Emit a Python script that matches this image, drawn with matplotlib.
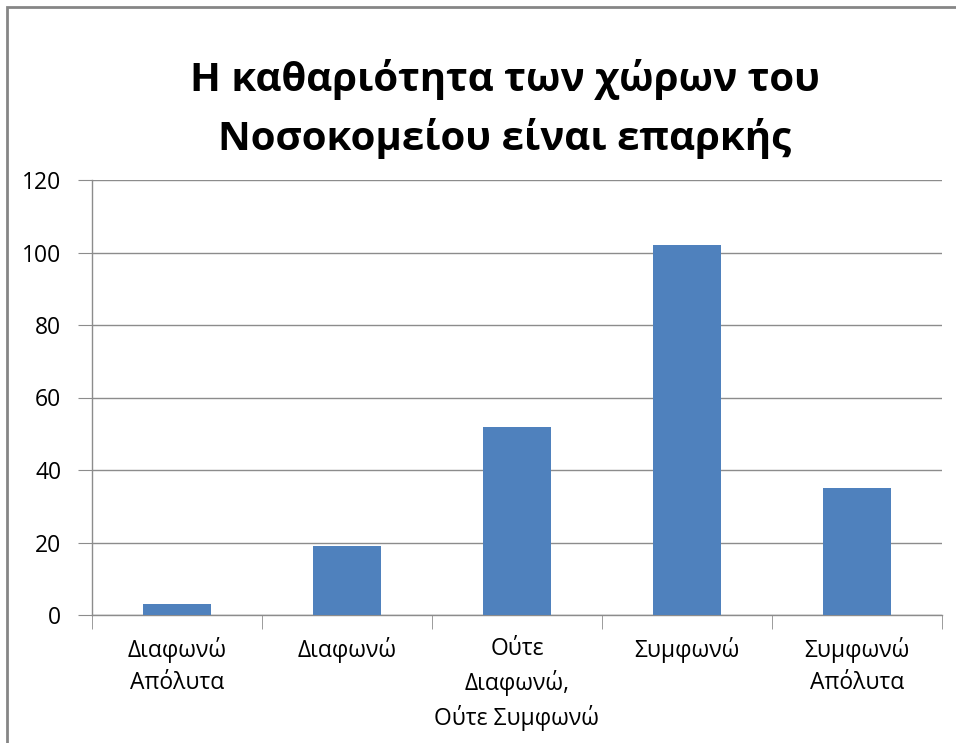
import matplotlib.pyplot as plt
from matplotlib.patches import Rectangle

# data
categories = ["Διαφωνώ\nΑπόλυτα", "Διαφωνώ", "Ούτε\nΔιαφωνώ,\nΟύτε Συμφωνώ",
              "Συμφωνώ", "Συμφωνώ\nΑπόλυτα"]
counts = [3, 19, 52, 102, 35]
yticks = [0, 20, 40, 60, 80, 100, 120]
title = "Η καθαριότητα των χώρων του\nΝοσοκομείου είναι επαρκής"


def main():
    plt.rcParams['font.family'] = ['Open Sans', 'DejaVu Sans']
    fig = plt.figure(figsize=(9.56, 7.43), dpi=100)
    ax = fig.add_axes([92 / 956, 128 / 743, 850 / 956, 435 / 743])

    x = range(len(counts))
    ax.bar(x, counts, width=0.4, color="#4F81BD", zorder=3)

    ax.set_xlim(-0.5, len(counts) - 0.5)
    ax.set_ylim(0, 120)
    ax.set_yticks(yticks)
    ax.set_xticks(list(x))
    ax.set_xticklabels(categories, fontsize=16.5, linespacing=1.45)
    ax.set_xticks([i - 0.5 for i in range(len(counts) + 1)], minor=True)

    ax.grid(axis="y", color="#8c8c8c", linewidth=1, zorder=0)
    for s in ["top", "right"]:
        ax.spines[s].set_visible(False)
    for s in ["left", "bottom"]:
        ax.spines[s].set_color("#8c8c8c")
        ax.spines[s].set_linewidth(1)

    ax.tick_params(axis="y", length=10, color="#8c8c8c", labelsize=16.5, pad=12)
    ax.tick_params(axis="x", which="major", length=0, pad=16)
    ax.tick_params(axis="x", which="minor", length=10, color="#8c8c8c")

    fig.text(0.528, 0.853, title, ha="center", va="center", fontsize=29,
             fontweight="bold", linespacing=1.55)

    # outer chart border
    fig.patches.append(Rectangle((7 / 956, -0.05), 1.0, 0.05 + 736 / 743,
                                 transform=fig.transFigure, fill=False,
                                 edgecolor="#868686", linewidth=2))

    fig.savefig("out.png", dpi=100)


if __name__ == "__main__":
    main()
